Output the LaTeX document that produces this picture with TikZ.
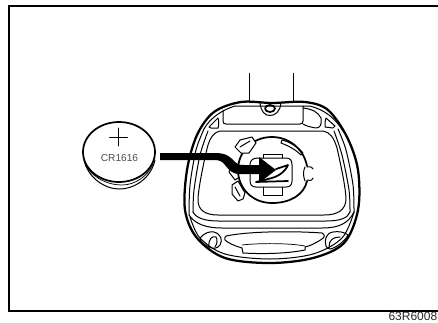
\documentclass[tikz,border=0pt]{standalone}
\usepackage{fontspec}
\setmainfont{Liberation Sans}
\tikzset{
  pix/.style={x=0.75pt,y=-0.75pt},
  outline/.style={line width=0.75pt,line join=round,line cap=round},
  heavy/.style={line width=1.3pt,line join=round,line cap=round},
  thin line/.style={line width=0.55pt,line join=round,line cap=round},
  label/.style={inner sep=0pt,text=black!70}
}
\begin{document}
\begin{tikzpicture}[pix]
\useasboundingbox (0,0) rectangle (438,322);
\clip (0,0) rectangle (438,322);
% frame
\draw[line width=1.5pt] (438,6) -- (9,6) -- (9,311) -- (438,311);
\node[label,anchor=base east,font=\fontsize{9}{10}\selectfont,text=black!85] (code) at (437.5,320.5) {63R6008};
% coin
\draw[outline] (84,160) .. controls (88,178) and (105,189) .. (119,189) .. controls (135,189) and (151,178) .. (155,160);
\draw[heavy] (83,152) arc[x radius=36,y radius=30,start angle=180,end angle=-180];
\draw[thin line] (86,166) .. controls (95,180) and (110,185) .. (122,185) .. controls (135,185) and (148,176) .. (153,164);
\coordinate (pa) at (109.5,137); \coordinate (pb) at (127.5,137);
\coordinate (pc) at (118.5,128); \coordinate (pd) at (118.5,146);
\draw[thin line] (pa) -- (pb) (pc) -- (pd);
\node[label,font=\fontsize{7.6}{9}\selectfont] (type) at (119.5,158) {CR1616};
% wires
\coordinate (w1a) at (249.5,72.5); \coordinate (w1b) at (249.5,102);
\coordinate (w2a) at (293.5,72.5); \coordinate (w2b) at (293.5,102);
\draw[line width=1pt] (w1a) -- (w1b) (w2a) -- (w2b);
% fob outer
\draw[line width=1.7pt,line join=round] plot[smooth cycle,tension=0.55] coordinates {
 (241,102) (272,103) (305,102) (328,110) (347,137) (358,170) (358,210) (344,243) (313,258) (270,263) (225,258) (197,238) (185,210) (187,170) (197,135) (214,112)};
\draw[outline] plot[smooth,tension=0.55] coordinates {
 (190,217) (200,238) (225,254) (270,259) (313,254) (342,238) (354,212)};
% inner top ledge
\draw[outline] (204,129) .. controls (210,118) and (222,110) .. (235,106) -- (310,106) .. controls (325,110) and (335,118) .. (343,131);
\draw[outline] (223,110) -- (223,121) .. controls (223,123) and (224,124) .. (226,124) -- (300,124) .. controls (302,124) and (303,123) .. (303,121) -- (303,106);
\draw[outline] (303,108) .. controls (312,109) and (318,112) .. (321,118) .. controls (322,125) and (320,128) .. (316,128) .. controls (310,127) and (306,126) .. (303,124);
\draw[outline] (260,103) .. controls (261,112) and (265,115.5) .. (270,115.5) .. controls (275,115.5) and (280,112) .. (281,103);
\draw[heavy] (265,108.5) arc[x radius=5,y radius=3.5,start angle=180,end angle=-180];
% corner lugs
\draw[outline] (209,127) -- (218,118) .. controls (219,121) and (219,125) .. (218,128) -- (211,128) -- cycle;
\draw[outline] (325,127) .. controls (325,123) and (325,120) .. (326,118) -- (335,126) -- (333,128) -- cycle;
% body walls
\draw[outline] plot[smooth,tension=0.5] coordinates {(204,129) (196,150) (190,185) (189,215)};
\draw[outline] plot[smooth,tension=0.5] coordinates {(208,131) (200,155) (194,190) (193,212)};
\draw[outline] plot[smooth,tension=0.5] coordinates {(338,129) (346,150) (353,185) (354,212)};
\draw[outline] plot[smooth,tension=0.5] coordinates {(334,131) (342,155) (349,190) (350,212)};
\draw[outline] (220,131) -- (323,131) .. controls (330,132) and (334,138) .. (337,148) .. controls (342,170) and (346,190) .. (346,200) .. controls (345,210) and (338,215) .. (324,215) -- (218,215) .. controls (205,215) and (198,210) .. (198,200) .. controls (198,190) and (204,160) .. (208,145) .. controls (210,138) and (214,132) .. (220,131);
\draw[outline] (193,212) .. controls (196,218) and (205,221) .. (218,221) -- (326,221) .. controls (340,221) and (348,218) .. (350,212);
\draw[outline] (189,215) .. controls (195,224) and (206,228) .. (222,228) -- (322,228) .. controls (338,228) and (348,224) .. (354,212);
% battery holder
\draw[heavy] (307,166) .. controls (304,150) and (290,137) .. (272,137) .. controls (252,137) and (238,152) .. (238,170) .. controls (238,188) and (252,203) .. (272,203) .. controls (290,203) and (304,195) .. (307,181);
\draw[outline] (307,167) .. controls (311,166) and (313,168) .. (313,169) (307,180) .. controls (311,181) and (313,180) .. (313,178) (305,167) .. controls (303,171) and (303,176) .. (305,181);
\draw[outline,fill=white] (235,147) -- (240,140) -- (252,137) -- (256,143) -- (249,153) -- (241,153) -- cycle;
\draw[outline] (240,147) -- (250,141);
\draw[outline,fill=white] (232,185) -- (238,181) -- (245,193) -- (243,199) -- (238,201) -- (232,194) -- cycle;
\draw[outline] (235,187) -- (240,196);
\draw[outline] (233,162) -- (229,172) -- (235,180) -- (238,178);
\draw[outline] (282,140) .. controls (290,142) and (298,147) .. (303,153) -- (301,155) .. controls (296,150) and (289,146) .. (281,143) -- cycle;
\draw[outline] (263,158) -- (263,154) -- (282,154) -- (282,158);
\draw[outline] (258,158) .. controls (252,158) and (250,161) .. (250,165) -- (250,180) .. controls (250,185) and (252,187) .. (256,187) -- (286,187) .. controls (290,187) and (292,185) .. (292,181) -- (292,165) .. controls (292,160) and (290,158) .. (286,158) -- (258,158);
\draw[outline] (263,187) -- (263,195) -- (282,195) -- (282,187);
\draw[heavy] (276,169) -- (288,165) .. controls (285,172) and (278,177) .. (268,179) -- (256,182) -- (288,181);
% bottom buttons
\draw[outline] (200,238) .. controls (204,233) and (210,231) .. (214,232) .. controls (221,234) and (223,240) .. (220,245) .. controls (217,249) and (213,249) .. (209,247) .. controls (204,245) and (200,241) .. (200,238) -- cycle;
\draw[outline] (209,247) .. controls (208,240) and (212,235) .. (216,237) .. controls (218,240) and (217,244) .. (215,247);
\draw[outline] (326,246) .. controls (324,240) and (326,233) .. (333,232) .. controls (338,231) and (345,232) .. (348,235) .. controls (345,241) and (336,248) .. (330,249) .. controls (328,249) and (327,248) .. (326,246) -- cycle;
\draw[outline] (329,247) .. controls (329,240) and (333,237) .. (340,237);
\draw[outline] (226,236) .. controls (250,231) and (295,231) .. (322,233) .. controls (325,235) and (325,237) .. (322,239) .. controls (316,243) and (310,246) .. (305,247) -- (305,250) .. controls (285,254) and (260,254) .. (243,253) -- (242,248) .. controls (235,246) and (228,243) .. (225,240) .. controls (224,238) and (225,237) .. (226,236) -- cycle;
\draw[thin line] (242,245) .. controls (258,243) and (290,243) .. (305,246);
% big arrow
\fill[black] (160,153) -- (215,153) .. controls (228,153) and (231,158) .. (235,162) .. controls (237,164.5) and (240,165) .. (244,165) -- (259,165) -- (259,157) -- (276,170) -- (259,183) -- (259,174) -- (240,174) .. controls (232,174) and (229,170) .. (225,165) .. controls (222,161) and (219,160) .. (214,160) -- (160,160) -- cycle;
\end{tikzpicture}
\end{document}
